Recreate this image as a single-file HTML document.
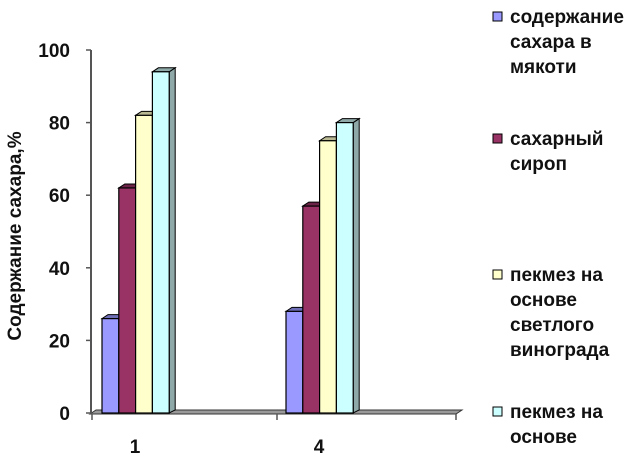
<!DOCTYPE html>
<html><head><meta charset="utf-8"><style>
body{margin:0;background:#fff;}
svg text{font-family:"Liberation Sans",sans-serif;font-weight:bold;fill:#111;}
</style></head><body>
<svg width="634" height="453">
<g id="axes"></g><g id="bars"></g><g id="legend"></g>
</svg>
<script>
const categories=["1","4"];
const seriesNames=[["содержание","сахара в","мякоти"],["сахарный","сироп"],["пекмез на","основе","светлого","винограда"],["пекмез на","основе"]];
const s1=[26,28];
const s2=[62,57];
const s3=[82,75];
const s4=[94,80];
const yTicks=[0,20,40,60,80,100];
const series=[s1,s2,s3,s4];
const colors=["#9999ff","#993366","#ffffcc","#ccffff"];
const tops=["#6f6fb8","#6b2447","#b8b893","#8fa8a8"];
const NS="http://www.w3.org/2000/svg";
function mk(t,a,p){const e=document.createElementNS(NS,t);for(const k in a)e.setAttribute(k,a[k]);p.appendChild(e);return e;}
const y=v=>413-v*3.63;
const groupX=i=>102+i*184;
const bw=16.8,dx=6,dy=4;
const ax=document.getElementById('axes');
let fl=mk('polygon',{points:`90,414 96,410 462,410 456,414`,fill:'#999',stroke:'#333','stroke-width':1},ax);

let yl=mk('line',{x1:91,y1:50,x2:91,y2:414,stroke:'#555','stroke-width':2},ax);

yTicks.forEach(v=>{
 let l=mk('line',{x1:86,y1:y(v),x2:91,y2:y(v),stroke:'#555','stroke-width':1.5},ax);
 
 let t=mk('text',{x:70,y:y(v)+7,'text-anchor':'end','font-size':19},ax);t.textContent=v;
 
});
[92,277,456].forEach(x=>{let l=mk('line',{x1:x,y1:414,x2:x,y2:420,stroke:'#555','stroke-width':1.5},ax);
 });
categories.forEach((c,i)=>{let t=mk('text',{x:groupX(i)+33,y:453,'text-anchor':'middle','font-size':19},ax);t.textContent=c;
 });
let yt=mk('text',{x:0,y:0,'text-anchor':'middle','font-size':19,transform:'translate(21,236) rotate(-90)'},ax);
yt.textContent='Содержание  сахара,%';

const bg=document.getElementById('bars');
categories.forEach((c,i)=>{
 for(let s=0;s<series.length;s++){
  const x=groupX(i)+s*bw, top=y(series[s][i]);
  const g=mk('g',{},bg);
  
  
  mk('polygon',{points:`${x+bw},${top} ${x+bw+dx},${top-dy} ${x+bw+dx},${410} ${x+bw},413`,fill:tops[s],stroke:'#000','stroke-width':1},g);
  mk('polygon',{points:`${x},${top} ${x+dx},${top-dy} ${x+bw+dx},${top-dy} ${x+bw},${top}`,fill:tops[s],stroke:'#000','stroke-width':1},g);
  mk('rect',{x:x,y:top,width:bw,height:413-top,fill:colors[s],stroke:'#000','stroke-width':1.2},g);
 }
});
const lg=document.getElementById('legend');
const ly=[14,136,272,409];
seriesNames.forEach((n,s)=>{
 const g=mk('g',{},lg);
 
 mk('rect',{x:493,y:ly[s]-2,width:9,height:9,fill:colors[s],stroke:'#000','stroke-width':1},g);
 n.forEach((line,j)=>{let t=mk('text',{x:510,y:ly[s]+9+j*25,'font-size':19},g);t.textContent=line;});
});
</script>
</body></html>
